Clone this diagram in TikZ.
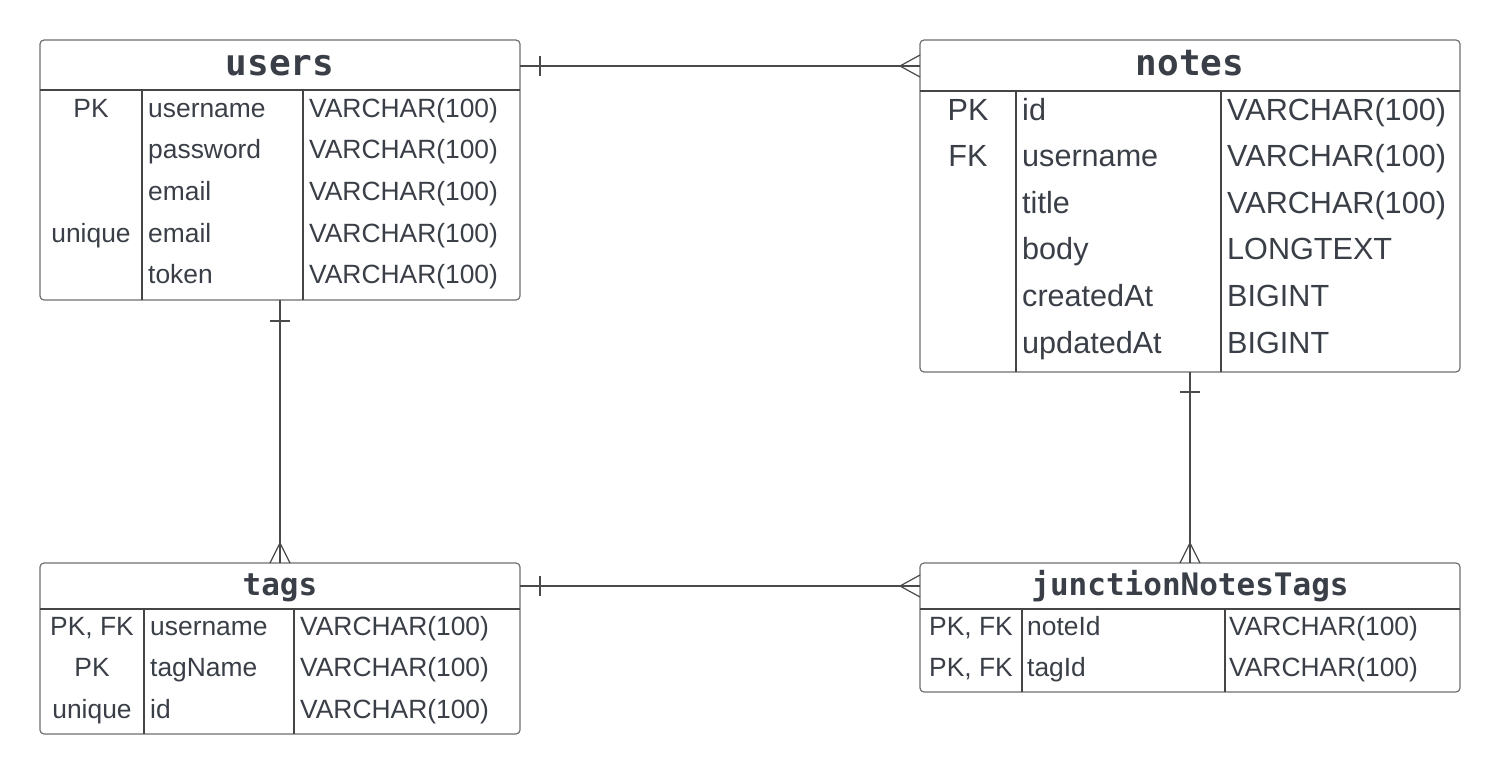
\documentclass[tikz,border=0pt]{standalone}
\usepackage{fontspec}
\setmainfont{Liberation Sans}
\newfontfamily\titlefont{DejaVu Sans Mono}
\usetikzlibrary{calc}
\definecolor{txt}{HTML}{3A3F47}
\definecolor{boxline}{HTML}{707070}
\definecolor{inline}{HTML}{454545}
\definecolor{connline}{HTML}{4A4A4A}
\begin{document}
\begin{tikzpicture}[x=1pt,y=-1pt,
  tablebox/.style={draw=boxline, line width=1.2pt, rounded corners=4pt, inner sep=0pt, outer sep=0pt, anchor=north west},
  sep/.style={draw=inline, line width=1.1pt},
  conn/.style={draw=connline, line width=1.2pt},
  title/.style={anchor=base, inner sep=0pt, text=txt, font=\titlefont\bfseries\fontsize{#1}{#1}\selectfont},
  keyc/.style={anchor=base, inner sep=0pt, text=txt, font=\fontsize{#1}{#1}\selectfont},
  fld/.style={anchor=base west, inner sep=0pt, text=txt, font=\fontsize{#1}{#1}\selectfont}]
\useasboundingbox (0,0) rectangle (1500,774);
\fill[white] (0,0) rectangle (1500,774);

% ---------- users ----------
\node[tablebox, minimum width=480pt, minimum height=260pt] (users) at (40,40) {};
\draw[sep] (40,90) -- (520,90);
\draw[sep] (142,90) -- (142,300);
\draw[sep] (303,90) -- (303,300);
\node[title=36] (usersT) at (280,75) {users};
\foreach \k/\n/\t/\y [count=\i] in {PK/username/VARCHAR(100)/117, {}/password/VARCHAR(100)/158.7, {}/email/VARCHAR(100)/200.4, unique/email/VARCHAR(100)/242.1, {}/token/VARCHAR(100)/283.8}{
  \node[keyc=26.4] (uk\i) at (91,\y) {\k};
  \node[fld=26.4] (un\i) at (148,\y) {\n};
  \node[fld=26.4] (ut\i) at (309,\y) {\t};
}

% ---------- notes ----------
\node[tablebox, minimum width=540pt, minimum height=332pt] (notes) at (920,40) {};
\draw[sep] (920,91) -- (1460,91);
\draw[sep] (1016,91) -- (1016,372);
\draw[sep] (1221,91) -- (1221,372);
\node[title=36] (notesT) at (1190,75) {notes};
\foreach \k/\n/\t/\y [count=\i] in {PK/id/VARCHAR(100)/120, FK/username/VARCHAR(100)/166.6, {}/title/VARCHAR(100)/213.2, {}/body/LONGTEXT/259.8, {}/createdAt/BIGINT/306.4, {}/updatedAt/BIGINT/353}{
  \node[keyc=30.6] (nk\i) at (968,\y) {\k};
  \node[fld=30.6] (nn\i) at (1022,\y) {\n};
  \node[fld=30.6] (nt\i) at (1227,\y) {\t};
}

% ---------- tags ----------
\node[tablebox, minimum width=480pt, minimum height=171pt] (tags) at (40,563) {};
\draw[sep] (40,609) -- (520,609);
\draw[sep] (144,609) -- (144,734);
\draw[sep] (294,609) -- (294,734);
\node[title=31] (tagsT) at (280,595) {tags};
\foreach \k/\n/\t/\y [count=\i] in {{PK, FK}/username/VARCHAR(100)/635, PK/tagName/VARCHAR(100)/676.5, unique/id/VARCHAR(100)/718}{
  \node[keyc=26.4] (tk\i) at (92,\y) {\k};
  \node[fld=26.4] (tn\i) at (150,\y) {\n};
  \node[fld=26.4] (tt\i) at (300,\y) {\t};
}

% ---------- junctionNotesTags ----------
\node[tablebox, minimum width=540pt, minimum height=129pt] (junc) at (920,563) {};
\draw[sep] (920,609) -- (1460,609);
\draw[sep] (1022,609) -- (1022,692);
\draw[sep] (1225,609) -- (1225,692);
\node[title=31] (juncT) at (1190,595) {junctionNotesTags};
\foreach \k/\n/\t/\y [count=\i] in {{PK, FK}/noteId/VARCHAR(100)/635, {PK, FK}/tagId/VARCHAR(100)/676.5}{
  \node[keyc=26.4] (jk\i) at (971,\y) {\k};
  \node[fld=26.4] (jn\i) at (1027,\y) {\n};
  \node[fld=26.4] (jt\i) at (1229,\y) {\t};
}

% ---------- connectors ----------
% users -> notes
\draw[conn] ([yshift=-26pt]users.north east) -- ([yshift=-26pt]notes.north west);
\draw[conn] ([xshift=20pt,yshift=-16pt]users.north east) -- ([xshift=20pt,yshift=-36pt]users.north east);
\draw[conn] ([yshift=-15pt]notes.north west) -- ([xshift=-20pt,yshift=-26pt]notes.north west) -- ([yshift=-37pt]notes.north west);
% users -> tags
\draw[conn] (users.south) -- (tags.north);
\draw[conn] ([xshift=-10pt,yshift=-21pt]users.south) -- ([xshift=10pt,yshift=-21pt]users.south);
\draw[conn] ([xshift=-10pt]tags.north) -- ([yshift=20pt]tags.north) -- ([xshift=10pt]tags.north);
% notes -> junction
\draw[conn] (notes.south) -- (junc.north);
\draw[conn] ([xshift=-10pt,yshift=-20pt]notes.south) -- ([xshift=10pt,yshift=-20pt]notes.south);
\draw[conn] ([xshift=-10pt]junc.north) -- ([yshift=20pt]junc.north) -- ([xshift=10pt]junc.north);
% tags -> junction
\draw[conn] ([yshift=-23pt]tags.north east) -- ([yshift=-23pt]junc.north west);
\draw[conn] ([xshift=20pt,yshift=-13pt]tags.north east) -- ([xshift=20pt,yshift=-33pt]tags.north east);
\draw[conn] ([yshift=-12pt]junc.north west) -- ([xshift=-20pt,yshift=-23pt]junc.north west) -- ([yshift=-34pt]junc.north west);
\end{tikzpicture}
\end{document}
